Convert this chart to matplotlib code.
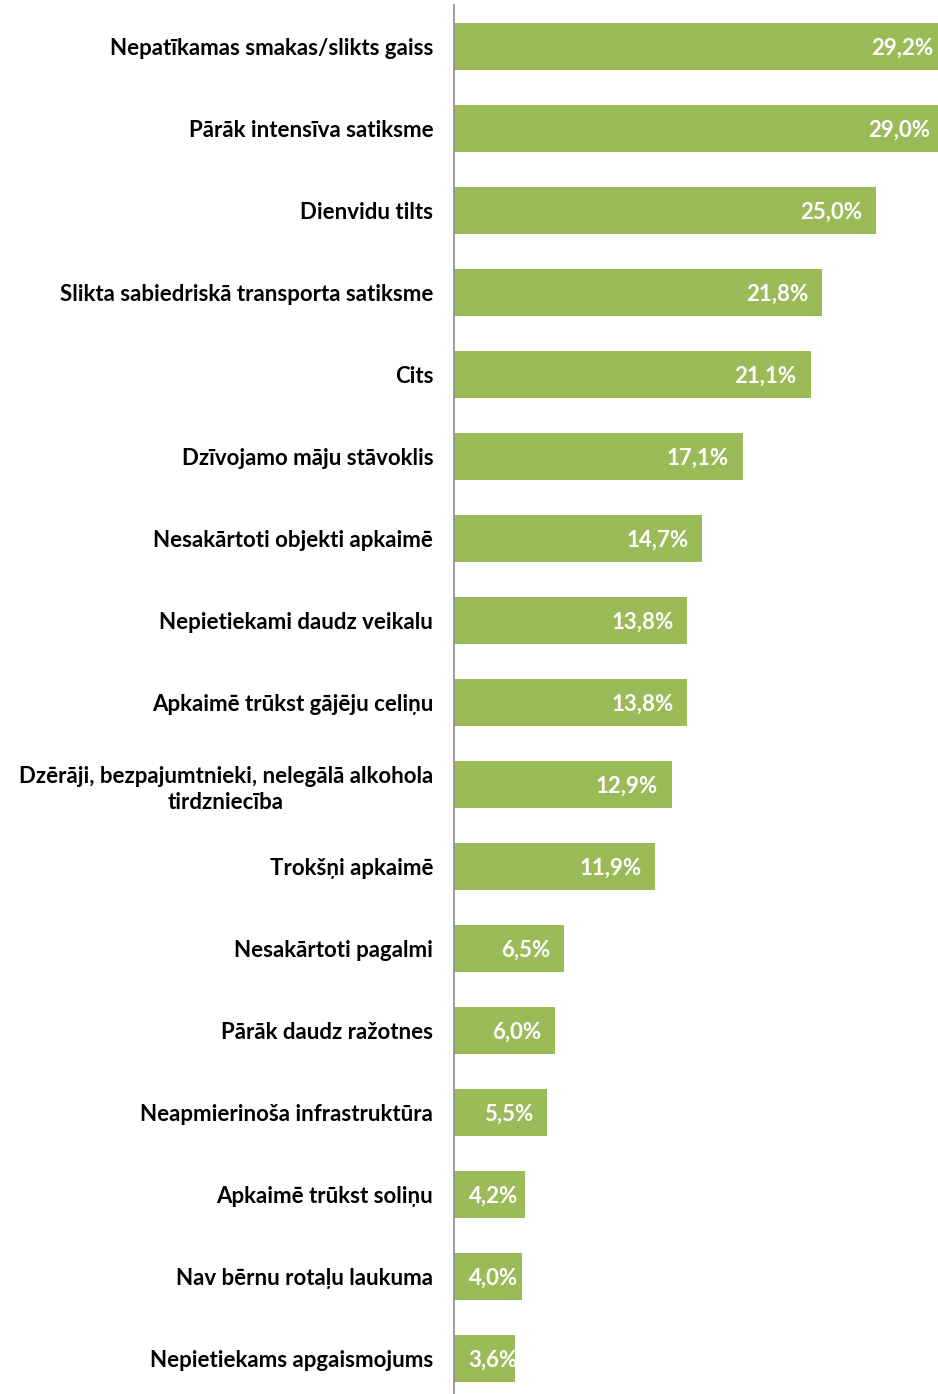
import matplotlib.pyplot as plt

# survey answers, share of respondents (%)
categories = [
    "Nepatīkamas smakas/slikts gaiss",
    "Pārāk intensīva satiksme",
    "Dienvidu tilts",
    "Slikta sabiedriskā transporta satiksme",
    "Cits",
    "Dzīvojamo māju stāvoklis",
    "Nesakārtoti objekti apkaimē",
    "Nepietiekami daudz veikalu",
    "Apkaimē trūkst gājēju celiņu",
    "Dzērāji, bezpajumtnieki, nelegālā alkohola\ntirdzniecība",
    "Trokšņi apkaimē",
    "Nesakārtoti pagalmi",
    "Pārāk daudz ražotnes",
    "Neapmierinoša infrastruktūra",
    "Apkaimē trūkst soliņu",
    "Nav bērnu rotaļu laukuma",
    "Nepietiekams apgaismojums",
]
values = [29.2, 29.0, 25.0, 21.8, 21.1, 17.1, 14.7, 13.8, 13.8, 12.9,
          11.9, 6.5, 6.0, 5.5, 4.2, 4.0, 3.6]

plt.rcParams['font.family'] = ['Lato', 'DejaVu Sans']

fig = plt.figure(figsize=(9.38, 13.94), dpi=100)
ax = fig.add_axes([454 / 938, 0.0, 1 - 454 / 938, 1 - 5 / 1394])

green = '#9BBB59'
pos = list(range(len(categories)))
ax.barh(pos, values, height=0.57, color=green)

for y, v in zip(pos, values):
    txt = f"{v:.1f}%".replace('.', ',')
    if v < 5:
        # short bars: label pinned near the axis, like Excel does
        ax.annotate(txt, xy=(0, y), xytext=(10.5, -1),
                    textcoords='offset points', ha='left', va='center',
                    color='white', fontsize=16, fontweight='bold')
    else:
        ax.annotate(txt, xy=(v, y), xytext=(-10, -1),
                    textcoords='offset points', ha='right', va='center',
                    color='white', fontsize=16, fontweight='bold',
                    annotation_clip=False)

ax.set_yticks(pos)
ax.set_yticklabels(categories, fontsize=16, fontweight='bold',
                   multialignment='center', linespacing=1.3)
ax.tick_params(axis='y', length=0, pad=15)
ax.set_xticks([])
ax.set_xlim(0, 28.64)
ax.set_ylim(16.43, -0.51)

for s in ['top', 'right', 'bottom']:
    ax.spines[s].set_visible(False)
ax.spines['left'].set_color('#8c8c8c')
ax.spines['left'].set_linewidth(1.2)

fig.savefig('out.png', dpi=100)
